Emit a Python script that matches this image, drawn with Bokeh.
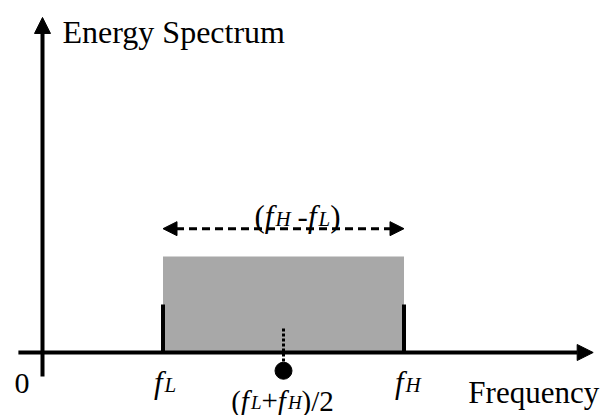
from bokeh.plotting import figure
from bokeh.models import Range1d, Arrow, NormalHead
from bokeh.embed import file_html
from bokeh.resources import INLINE
from bokeh.core.properties import value

# ---------------- data ----------------
band_names = ["f_L", "f_H"]
band_freq = [1.0, 3.0]          # f_L, f_H (frequency units)
band_energy = [1.0]             # flat energy level of the band
edge_marker_height = [0.5]      # height of the band-edge bars
axis_titles = ["Frequency", "Energy Spectrum"]
origin_label = ["0"]

f_low, f_high = band_freq
f_mid = (f_low + f_high) / 2.0
level = band_energy[0]

# ---------------- layout (pixels per unit, ranges) ----------------
XPX, YPX = 120.5, 96.0
ORIGIN_PX_X, ORIGIN_PX_Y = 42.0, 352.0   # origin inside the canvas
W, H = 608, 415

FONT = "Liberation Serif"
MAIN = 31
SUB = 21

p = figure(width=W, height=H, output_backend="svg", toolbar_location=None,
           x_axis_type=None, y_axis_type=None, min_border=0,
           outline_line_color=None, background_fill_color="white",
           border_fill_color="white",
           x_range=Range1d(-ORIGIN_PX_X / XPX, (W - ORIGIN_PX_X) / XPX),
           y_range=Range1d(-(H - ORIGIN_PX_Y) / YPX, ORIGIN_PX_Y / YPX))
p.grid.visible = False

# axes with arrow heads
x_axis_start, x_axis_end = -0.2, 4.57
y_axis_start, y_axis_end = -0.25, 3.49
p.add_layout(Arrow(end=NormalHead(size=16, fill_color="black", line_color="black"),
                   x_start=x_axis_start, y_start=0, x_end=x_axis_end, y_end=0,
                   line_width=4, line_color="black"))
p.add_layout(Arrow(end=NormalHead(size=16, fill_color="black", line_color="black"),
                   x_start=0, y_start=y_axis_start, x_end=0, y_end=y_axis_end,
                   line_width=4, line_color="black"))

# band rectangle
p.quad(left=[f_low], right=[f_high], bottom=[0], top=band_energy,
       fill_color="#a8a8a8", line_color=None)

# band edge bars
p.segment(x0=band_freq, y0=[0, 0], x1=band_freq, y1=edge_marker_height * 2,
          line_width=4, line_color="black")

# centre frequency: dotted line and dot
dot_drop = 0.19
p.segment(x0=[f_mid], y0=[0.25 * level], x1=[f_mid], y1=[-dot_drop],
          line_width=3, line_color="black", line_dash="3 2")
p.scatter(x=[f_mid], y=[-dot_drop], size=17, marker="circle",
          fill_color="black", line_color="black")

# bandwidth arrow
arrow_level = 1.29 * level
p.add_layout(Arrow(start=NormalHead(size=14, fill_color="black", line_color="black"),
                   end=NormalHead(size=14, fill_color="black", line_color="black"),
                   x_start=f_low, y_start=arrow_level, x_end=f_high, y_end=arrow_level,
                   line_width=3, line_color="black", line_dash="8 5"))

# ---------------- texts ----------------
ADV = {("(", "normal"): .333, (")", "normal"): .333, ("+", "normal"): .564,
       ("/", "normal"): .278, ("2", "normal"): .5, ("-", "normal"): .333,
       ("f", "italic"): .278, ("L", "italic"): .556, ("H", "italic"): .722}


def run_width(txt, size, style):
    return sum(ADV.get((c, style), 0.5) for c in txt) * size


def place(runs, ax, ay, dx, dy, center=False):
    total = sum(run_width(t, s, st) + extra for t, s, st, sh, extra in runs)
    cur = dx - (total / 2.0 if center else 0.0)
    for t, s, st, sh, extra in runs:
        p.text(x=[ax], y=[ay], text=[t], x_offset=cur, y_offset=dy + sh,
               text_font=value(FONT), text_font_size=f"{s}px",
               text_font_style=st, text_align="left",
               text_baseline="alphabetic", text_color="black")
        cur += run_width(t, s, st) + extra


def f_sub(letter, gap=0, main=MAIN, sub=SUB):
    return [("f", main, "italic", 0, 2), (letter, sub, "italic", 2, gap)]


place(f_sub(band_names[0][-1]), f_low, 0, -9, 30)
place(f_sub(band_names[1][-1]), f_high, 0, -9, 30)

M2, S2 = 29, 19
mid_runs = ([("(", M2, "normal", 0, 0)] + f_sub("L", main=M2, sub=S2)
            + [("+", M2, "normal", 0, 0)]
            + f_sub("H", main=M2, sub=S2) + [(")/2", M2, "normal", 0, 0)])
place(mid_runs, f_mid, 0, -1, 48, center=True)

diff_runs = ([("(", MAIN, "normal", 0, 0)] + f_sub("H", gap=7) + [("-", MAIN, "normal", 0, 0)]
             + f_sub("L") + [(")", MAIN, "normal", 0, 0)])
place(diff_runs, f_mid, arrow_level, 14, -12, center=True)

p.text(x=[0], y=[0], text=origin_label, x_offset=-13, y_offset=31,
       text_font=value(FONT), text_font_size="30px", text_align="right",
       text_baseline="alphabetic", text_color="black")
p.text(x=[x_axis_end], y=[0], text=[axis_titles[0]], x_offset=6, y_offset=40,
       text_font=value(FONT), text_font_size=f"{MAIN}px", text_align="right",
       text_baseline="alphabetic", text_color="black")
p.text(x=[0], y=[y_axis_end], text=[axis_titles[1]], x_offset=20, y_offset=15,
       text_font=value(FONT), text_font_size="32px", text_align="left",
       text_baseline="alphabetic", text_color="black")

open("out.html", "w").write(file_html(p, INLINE))
